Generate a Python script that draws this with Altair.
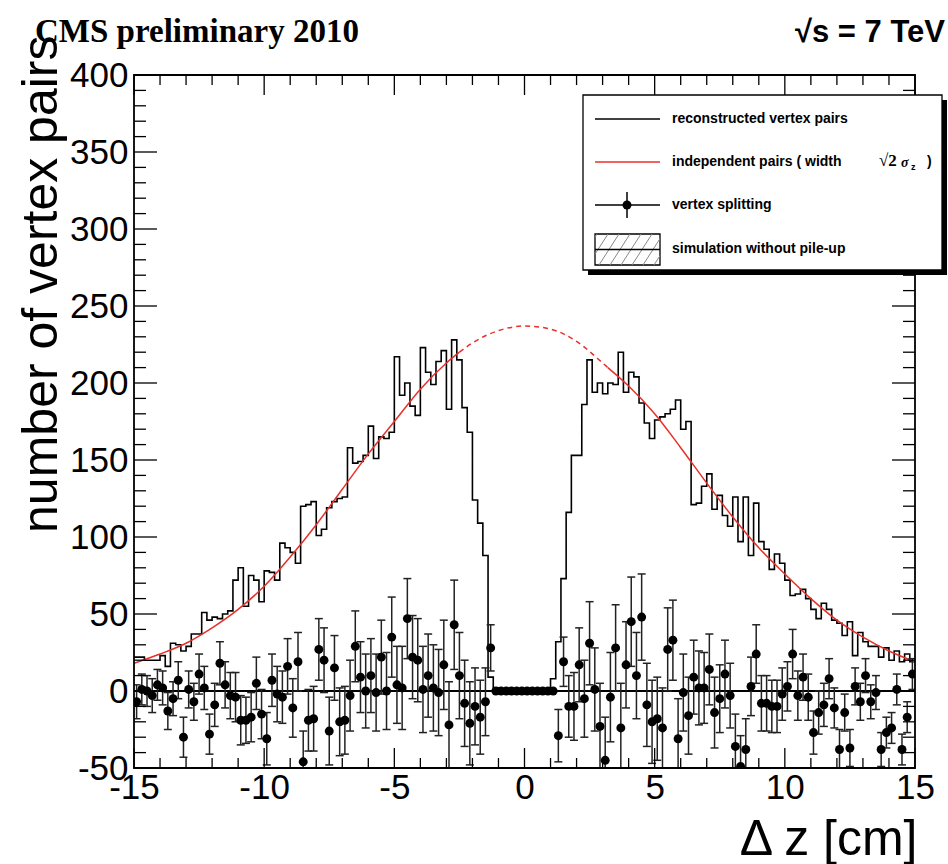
import altair as alt
import pandas as pd
import numpy as np

# ---------------- data ----------------
BIN_WIDTH = 0.2
X_MIN, X_MAX = -15, 15

hist_counts = [
    22, 22, 20, 20, 20, 23, 16, 31, 30, 26,
    29, 37, 37, 51, 46, 48, 47, 50, 52, 72,
    80, 55, 75, 72, 58, 78, 77, 72, 96, 93,
    90, 83, 120, 121, 123, 101, 105, 119, 123, 125,
    126, 158, 148, 149, 153, 172, 151, 165, 164, 168,
    217, 192, 200, 185, 179, 223, 207, 199, 214, 221,
    183, 228, 215, 184, 168, 124, 109, 88, 9, 2,
    0, 0, 0, 0, 0, 0, 0, 0, 0, 1,
    8, 32, 73, 116, 153, 153, 186, 215, 194, 200,
    193, 200, 199, 220, 194, 207, 204, 187, 174, 164,
    176, 178, 180, 183, 189, 170, 175, 121, 122, 133,
    141, 118, 127, 114, 107, 126, 97, 126, 88, 122,
    97, 92, 79, 89, 83, 72, 62, 63, 66, 60,
    53, 47, 57, 53, 46, 44, 36, 45, 23, 38,
    32, 29, 29, 22, 28, 20, 26, 19, 24, 19,
]

split_values = [
    -7, 1, 0, -3, 4, 2, -13, -5, 7, -30,
    1, -7, 11, 2, -28, -9, 18, 4, -3, -4,
    -19, -19, -17, 5, -15, -31, 7, -2, -4, 16,
    -11, 19, -46, -19, -18, 27, 20, -26, 15, -20,
    -19, -3, 29, 9, 0, 10, -1, 22, 0, 35,
    4, 2, 47, 22, 20, 1, 10, 2, -1, 17,
    -22, 43, 10, -8, -21, -10, -17, -7, 28, 0,
    0, 0, 0, 0, 0, 0, 0, 0, 0, 0,
    0, -29, 19, -10, -10, 17, -5, 31, 1, -23,
    -45, -4, 28, -24, 17, 45, 10, 48, -9, -20,
    -18, -24, 27, 33, -31, -1, -16, 9, 2, 2,
    14, -14, -5, 11, -3, -36, -49, -38, 3, 24,
    -8, -8, -10, -10, -2, 3, 24, -3, 9, -4,
    -27, -14, -9, 8, -11, -38, -14, -37, 3, -7,
    10, -7, -1, -38, -27, -24, 1, -38, -17, 11,
]

split_errors = [
    11, 10, 10, 11, 10, 11, 12, 11, 12, 13,
    12, 12, 13, 14, 13, 14, 14, 15, 15, 16,
    16, 15, 16, 17, 16, 17, 17, 18, 17, 18,
    19, 19, 20, 20, 21, 20, 21, 22, 21, 22,
    22, 23, 23, 23, 24, 24, 25, 24, 25, 26,
    25, 27, 26, 27, 27, 28, 27, 28, 28, 29,
    28, 29, 28, 28, 27, 25, 24, 22, 15, 0,
    0, 0, 0, 0, 0, 0, 0, 0, 0, 0,
    0, 17, 16, 20, 22, 24, 25, 27, 27, 28,
    28, 29, 28, 29, 28, 29, 28, 28, 27, 27,
    27, 26, 27, 26, 26, 25, 25, 24, 24, 23,
    23, 23, 22, 22, 21, 21, 20, 20, 19, 19,
    18, 18, 17, 17, 17, 16, 16, 16, 15, 15,
    14, 14, 14, 13, 13, 13, 12, 12, 12, 12,
    11, 11, 11, 11, 10, 10, 10, 10, 10, 10,
]

curve_x = [-15, -14, -13, -12, -11, -10, -9, -8, -7, -6, -5, -4, -3, -2.5, -2, -1,
           0, 1, 2, 3, 3.2, 4, 5, 6, 7, 8, 9, 10, 11, 12, 13, 14, 15]
curve_y = [18, 24, 31, 41, 53, 68, 87, 108, 131, 154, 175, 196, 213, 220, 226, 234,
           237, 235, 227, 213, 210, 198, 180, 158, 135, 113, 93, 76, 60, 46, 35, 26, 19]
FIT_LO, FIT_HI = -2.5, 3.2   # fit range limits (dashed between them)

x_tick_labels = [-15, -10, -5, 0, 5, 10, 15]
y_tick_labels = [-50, 0, 50, 100, 150, 200, 250, 300, 350, 400]
x_minor_ticks = list(range(-15, 16))
y_minor_ticks = list(range(-50, 401, 10))

# ---------------- tables ----------------
n = len(hist_counts)
lower = X_MIN + BIN_WIDTH * np.arange(n)
centers = lower + BIN_WIDTH / 2
hist_df = pd.DataFrame({"x": list(lower) + [X_MAX], "y": hist_counts + [hist_counts[-1]]})

pts_df = pd.DataFrame({"x": centers, "y": split_values, "e": split_errors})
pts_df["lo"] = pts_df["y"] - pts_df["e"]
pts_df["hi"] = pts_df["y"] + pts_df["e"]
err_df = pts_df[pts_df["e"] > 0]

curve_df = pd.DataFrame({"x": curve_x, "y": curve_y})
left_df = curve_df[curve_df["x"] <= FIT_LO]
mid_df = curve_df[(curve_df["x"] >= FIT_LO) & (curve_df["x"] <= FIT_HI)]
right_df = curve_df[curve_df["x"] >= FIT_HI]

W, H = 781, 693
FONT = "Liberation Sans"
xs = alt.Scale(domain=[X_MIN, X_MAX], nice=False, zero=False)
ys = alt.Scale(domain=[-50, 400], nice=False, zero=False)

x_axis = alt.Axis(values=x_tick_labels, labelExpr="'' + datum.value", labelFont=FONT,
                  labelFontSize=35, labelColor="black", labelPadding=2, ticks=False, tickSize=0,
                  domain=False, grid=False, labelOverlap=False, labelFlush=False,
                  title="Δ z [cm]", titleFont=FONT, titleFontSize=50, titleFontWeight="normal",
                  titleColor="black", titleAlign="right", titleBaseline="alphabetic",
                  titleAngle=0, titleX=783, titleY=86)
y_axis = alt.Axis(values=y_tick_labels, labelExpr="'' + datum.value", labelFont=FONT,
                  labelFontSize=35, labelColor="black", labelPadding=6, ticks=False, tickSize=0,
                  domain=False, grid=False, labelOverlap=False, labelFlush=False,
                  title="number of vertex pairs", titleFont=FONT, titleFontSize=50,
                  titleFontWeight="normal", titleColor="black", titleAngle=270,
                  titleAlign="right", titleBaseline="alphabetic", titleX=-78, titleY=-40)

X = lambda f: alt.X(f, scale=xs)
Y = lambda f: alt.Y(f, scale=ys)

layers = []

# histogram (carries the axes)
layers.append(alt.Chart(hist_df).mark_line(interpolate="step-after", color="black",
                                           strokeWidth=1.6, clip=True)
              .encode(x=alt.X("x:Q", scale=xs, axis=x_axis),
                      y=alt.Y("y:Q", scale=ys, axis=y_axis)))

# zero line
layers.append(alt.Chart(pd.DataFrame({"y": [0]})).mark_rule(color="black", strokeWidth=2)
              .encode(y=Y("y:Q")))

# red curve
RED = "#e8302a"
for d, dash in ((left_df, None), (mid_df, [5, 4]), (right_df, None)):
    kw = dict(interpolate="monotone", color=RED, strokeWidth=1.5, clip=True)
    if dash:
        kw["strokeDash"] = dash
    layers.append(alt.Chart(d).mark_line(**kw).encode(x=X("x:Q"), y=Y("y:Q")))

# error bars + caps
layers.append(alt.Chart(err_df).mark_rule(color="#222222", strokeWidth=1.5, clip=True)
              .encode(x=X("x:Q"), y=Y("lo:Q"), y2="hi:Q"))
for fld in ("lo", "hi"):
    layers.append(alt.Chart(err_df).mark_rule(color="#222222", strokeWidth=1.5, clip=True,
                                              xOffset=-4, x2Offset=4)
                  .encode(x=X("x:Q"), x2="x:Q", y=Y(f"{fld}:Q")))

# points
layers.append(alt.Chart(pts_df).mark_circle(color="black", size=80, opacity=1, clip=True)
              .encode(x=X("x:Q"), y=Y("y:Q")))

# inward ticks on all four sides
def xticks(vals, length):
    d = pd.DataFrame({"x": vals})
    out = []
    for y0, y1 in ((H, H - length), (0, length)):
        out.append(alt.Chart(d).mark_rule(color="black", strokeWidth=1.3)
                   .encode(x=X("x:Q"), y=alt.value(y0), y2=alt.value(y1)))
    return out

def yticks(vals, length):
    d = pd.DataFrame({"y": vals})
    out = []
    for x0, x1 in ((0, length), (W, W - length)):
        out.append(alt.Chart(d).mark_rule(color="black", strokeWidth=1.3)
                   .encode(y=Y("y:Q"), x=alt.value(x0), x2=alt.value(x1)))
    return out

layers += xticks([v for v in x_minor_ticks if v not in x_tick_labels], 10)
layers += xticks(x_tick_labels, 20)
layers += yticks([v for v in y_minor_ticks if v not in y_tick_labels], 12)
layers += yticks(y_tick_labels, 23)

one = pd.DataFrame({"k": [0]})
# frame
layers.append(alt.Chart(one).mark_rect(fill="transparent", stroke="black", strokeWidth=1.8)
              .encode(x=alt.value(0), x2=alt.value(W), y=alt.value(0), y2=alt.value(H)))

# ---------------- legend ----------------
layers.append(alt.Chart(one).mark_rect(color="black")
              .encode(x=alt.value(454), x2=alt.value(813), y=alt.value(25), y2=alt.value(200)))
layers.append(alt.Chart(one).mark_rect(fill="white", stroke="black", strokeWidth=1.3)
              .encode(x=alt.value(449), x2=alt.value(808), y=alt.value(20), y2=alt.value(195)))
LX0, LX1 = 461, 526
layers.append(alt.Chart(one).mark_rule(color="black", strokeWidth=1.5)
              .encode(x=alt.value(LX0), x2=alt.value(LX1), y=alt.value(44)))
layers.append(alt.Chart(one).mark_rule(color=RED, strokeWidth=1.5)
              .encode(x=alt.value(LX0), x2=alt.value(LX1), y=alt.value(87)))
layers.append(alt.Chart(one).mark_rule(color="black", strokeWidth=1.5)
              .encode(x=alt.value(LX0), x2=alt.value(LX1), y=alt.value(130)))
layers.append(alt.Chart(one).mark_rule(color="black", strokeWidth=1.5)
              .encode(x=alt.value(493), y=alt.value(117), y2=alt.value(143)))
layers.append(alt.Chart(one).mark_circle(color="black", size=80, opacity=1)
              .encode(x=alt.value(493), y=alt.value(130)))
# hatched box
BY0, BY1 = 159, 190
hatch = []
for start in range(LX0 - 18, LX1, 11):
    xa, ya, xb, yb = start, BY1, start + 20, BY0
    if xa < LX0:
        ya = BY1 - (LX0 - xa) * (BY1 - BY0) / 20
        xa = LX0
    if xb > LX1:
        yb = BY0 + (xb - LX1) * (BY1 - BY0) / 20
        xb = LX1
    hatch.append((xa, ya, xb, yb))
layers.append(alt.Chart(one).mark_rect(fill="white", stroke="black", strokeWidth=1.3)
              .encode(x=alt.value(LX0), x2=alt.value(LX1), y=alt.value(BY0), y2=alt.value(BY1)))
for xa, ya, xb, yb in hatch:
    layers.append(alt.Chart(one).mark_rule(color="#888888", strokeWidth=1)
                  .encode(x=alt.value(xa), x2=alt.value(xb), y=alt.value(ya), y2=alt.value(yb)))
layers.append(alt.Chart(one).mark_rule(color="black", strokeWidth=1.3)
              .encode(x=alt.value(LX0), x2=alt.value(LX1), y=alt.value((BY0 + BY1) / 2)))

legend_texts = [
    ("reconstructed vertex pairs", 44),
    ("independent pairs ( width", 87),
    ("vertex splitting", 130),
    ("simulation without pile-up", 174),
]
for txt, yy in legend_texts:
    layers.append(alt.Chart(one).mark_text(align="left", baseline="middle", font=FONT,
                                           fontSize=14, fontWeight="bold", color="black")
                  .encode(x=alt.value(538), y=alt.value(yy), text=alt.value(txt)))
for txt, xx, yy, fs, fnt, st in (("√2", 745, 86, 17, "Liberation Serif", "normal"),
                                 ("σ", 767, 88, 14, "Liberation Serif", "italic"),
                                 ("z", 777, 92, 9, "Liberation Sans", "normal"),
                                 (")", 793, 87, 14, "Liberation Sans", "normal")):
    layers.append(alt.Chart(one).mark_text(align="left", baseline="middle", font=fnt,
                                           fontSize=fs, fontWeight="bold", fontStyle=st,
                                           color="black")
                  .encode(x=alt.value(xx), y=alt.value(yy), text=alt.value(txt)))

# header texts
layers.append(alt.Chart(one).mark_text(align="left", baseline="alphabetic", font="Liberation Serif",
                                       fontSize=33, fontWeight="bold", color="black")
              .encode(x=alt.value(-99), y=alt.value(-33), text=alt.value("CMS preliminary 2010")))
layers.append(alt.Chart(one).mark_text(align="right", baseline="alphabetic", font=FONT,
                                       fontSize=31, fontWeight="bold", color="black")
              .encode(x=alt.value(811), y=alt.value(-33), text=alt.value("√s = 7 TeV")))

chart = (alt.layer(*layers)
         .properties(width=W, height=H, autosize=alt.AutoSizeParams(type="none"),
                     padding={"left": 134, "top": 75, "right": 33, "bottom": 96},
                     background="white")
         .configure_view(stroke="transparent"))

chart.save("out.html", embed_options={"renderer": "svg", "actions": False})
